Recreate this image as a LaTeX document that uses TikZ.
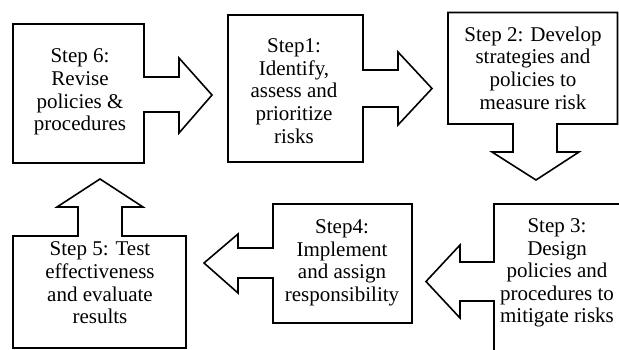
\documentclass[tikz,border=0pt]{standalone}
\usepackage{fontspec}
\setmainfont{Liberation Serif}
\begin{document}
\begin{tikzpicture}[x=1pt,y=-1pt,
  shapeline/.style={draw=black,line width=1.6pt,fill=white,line join=miter},
  steptext/.style={align=center,font=\fontsize{21}{22.6}\selectfont,inner sep=0pt}]
\useasboundingbox (0,0) rectangle (619,350);
\clip (0,0) rectangle (619,350);
% Step 6 box + right arrow
\draw[shapeline] (13,24) -- (144,24) -- (144,77) -- (179,77) -- (179,58) -- (212,95) -- (179,133) -- (179,112) -- (144,112) -- (144,163) -- (13,163) -- cycle;
% Step 1 box + right arrow
\draw[shapeline] (228,15) -- (363,15) -- (363,70) -- (398,70) -- (398,52) -- (432,88.5) -- (398,125) -- (398,107) -- (363,107) -- (363,162) -- (228,162) -- cycle;
% Step 2 box + down arrow
\draw[shapeline] (448,12.5) -- (617.5,12.5) -- (617.5,124) -- (557,124) -- (557,152) -- (579,152) -- (536,180) -- (492,152) -- (513,152) -- (513,124) -- (448,124) -- cycle;
% Step 3 box + left arrow
\draw[shapeline] (494,204) -- (630,204) -- (630,360) -- (494,360) -- (494,301) -- (460,301) -- (460,318) -- (426,281.5) -- (460,245) -- (460,262) -- (494,262) -- cycle;
% Step 4 box + left arrow
\draw[shapeline] (273,204) -- (412,204) -- (412,323) -- (273,323) -- (273,278) -- (238,278) -- (238,293) -- (204,263) -- (238,234) -- (238,248) -- (273,248) -- cycle;
% Step 5 box + up arrow
\draw[shapeline] (13,236) -- (78,236) -- (78,207) -- (57,207) -- (100,179) -- (143,207) -- (122,207) -- (122,236) -- (186,236) -- (186,348) -- (13,348) -- cycle;
% texts
\node[steptext] (s6) at (80,92) {Step 6:\\Revise\\policies \&\\procedures};
\node[steptext] (s1) at (294,91) {Step1:\\Identify,\\assess and\\prioritize\\risks};
\node[steptext] (s2) at (533,68) {Step 2: Develop\\strategies and\\policies to\\measure risk};
\node[steptext] (s3) at (557,273) {Step 3:\\Design\\policies and\\procedures to\\mitigate risks};
\node[steptext] (s4) at (342,263) {Step4:\\Implement\\and assign\\responsibility};
\node[steptext] (s5) at (100,283) {Step 5: Test\\effectiveness\\and evaluate\\results};
\end{tikzpicture}
\end{document}
